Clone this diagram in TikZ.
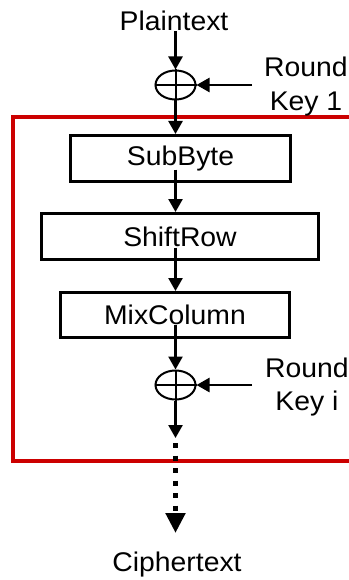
\documentclass[tikz,border=0pt]{standalone}
\usepackage{fontspec}
\setmainfont{Liberation Sans}[FakeStretch=1.05]
\usetikzlibrary{arrows.meta,shapes.geometric}
\definecolor{framered}{RGB}{204,0,0}
\begin{document}
\begin{tikzpicture}[x=1pt,y=-1pt,
  txt/.style={font=\fontsize{27}{33.5}\selectfont, inner sep=0pt, align=center},
  stage/.style={draw, line width=3pt, font=\fontsize{27}{34}\selectfont, inner sep=0pt},
  xor/.style={draw, ellipse, line width=2pt, minimum width=40pt, minimum height=29pt, inner sep=0pt},
  flow/.style={line width=2.5pt, -{Triangle[width=14pt,length=13pt]}},
  thin/.style={line width=2pt},
  dotflow/.style={line width=5pt, dash pattern=on 5pt off 7.5pt, dash phase=-5pt, -{Triangle[width=19pt,length=20pt]}},
  frame/.style={draw=framered, line width=4pt}
]
\useasboundingbox (0,0) rectangle (348,580);

% red frame (open on the right)
\draw[frame] (370,117) -- (13,117) -- (13,461) -- (370,461);

% texts
\node[txt, anchor=base] (pt) at (174,31) {Plaintext};
\node[txt, anchor=base] (ct) at (177,571) {Ciphertext};
\node[txt] (rk1) at (306,86.5) {Round\\Key 1};
\node[txt] (rki) at (307,387) {Round\\Key i};

% xor nodes
\node[xor] (x1) at (175.5,85) {};
\node[xor] (x2) at (175.5,385) {};
\draw[thin] (x1.north) -- (x1.south) (x1.west) -- (x1.east);
\draw[thin] (x2.north) -- (x2.south) (x2.west) -- (x2.east);

% stages
\node[stage, minimum width=220pt, minimum height=46pt] (sb) at (180.5,158.5) {SubByte};
\node[stage, minimum width=277pt, minimum height=46pt] (sr) at (180,236.5) {ShiftRow};
\node[stage, minimum width=229pt, minimum height=45pt] (mc) at (175,315) {MixColumn};

% key inputs
\coordinate (k1) at (252,85);
\coordinate (ki) at (252,385);
\coordinate (d1) at (175.5,438);
\coordinate (d2) at (175.5,533);

% connectors
\draw[flow] (pt.south -| x1.north) -- (x1.north);
\draw[flow] (k1) -- (x1.east);
\draw[flow] (x1.south) -- (x1.south |- sb.north);
\draw[flow] ([yshift=-11pt]sb.center -| x1.south) -- (x1.south |- sr.north);
\draw[flow] ([yshift=-11pt]sr.center -| x1.south) -- (x1.south |- mc.north);
\draw[flow] ([yshift=-10pt]mc.center -| x2.north) -- (x2.north);
\draw[flow] (ki) -- (x2.east);
\draw[flow] (x2.south) -- (d1);
\draw[dotflow] (d1) -- (d2);
\end{tikzpicture}
\end{document}
